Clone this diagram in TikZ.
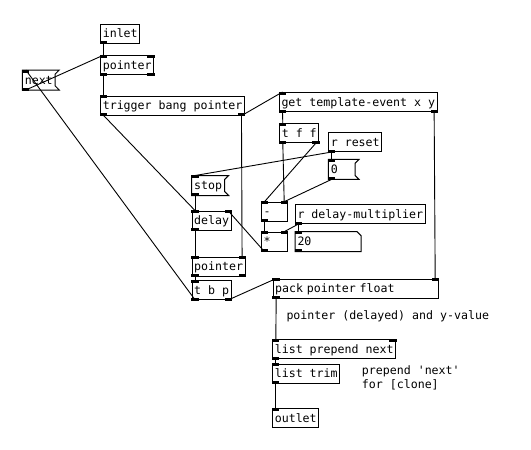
\documentclass[tikz,border=0pt]{standalone}
\usepackage{fontspec}
\newfontfamily\pdfont[Ligatures=TeXOff]{DejaVu Sans Mono}
\newcommand\pdtext{\pdfont\fontsize{11.6pt}{14pt}\selectfont}
\newcommand\pdinL[1]{\fill ([shift={(-0.5pt,0.5pt)}]#1.north west) rectangle ++(7.5pt,-3pt);}
\newcommand\pdinR[1]{\fill ([shift={(0.5pt,0.5pt)}]#1.north east) rectangle ++(-7.5pt,-3pt);}
\newcommand\pdoutL[1]{\fill ([shift={(-0.5pt,-0.5pt)}]#1.south west) rectangle ++(7.5pt,3pt);}
\newcommand\pdoutR[1]{\fill ([shift={(0.5pt,-0.5pt)}]#1.south east) rectangle ++(-7.5pt,3pt);}
\newcommand\pdmsgshape[1]{\draw[line width=1pt] (#1.north west) -- ([xshift=4pt]#1.north east) -- ([yshift=-4pt]#1.north east) -- ([yshift=4pt]#1.south east) -- ([xshift=4pt]#1.south east) -- (#1.south west) -- cycle;}
\newcommand\pdatomshape[1]{\draw[line width=1pt] (#1.north west) -- ([xshift=-4pt]#1.north east) -- ([yshift=-4pt]#1.north east) -- (#1.south east) -- (#1.south west) -- cycle;}
\begin{document}
\begin{tikzpicture}[x=1pt,y=-1pt,
  pdobj/.style={draw, line width=1pt, anchor=north west, inner xsep=2pt, inner ysep=0pt,
    text height=13.7pt, text depth=5.3pt, font=\pdtext},
  pdmsg/.style={pdobj, draw=none},
  conn/.style={line width=0.9pt},
  pdcmt/.style={anchor=base west, inner sep=0pt, font=\pdtext}]
\fill[white] (0,0) rectangle (531,450);
\useasboundingbox (0,0) rectangle (531,450);

% objects
\node[pdobj] (inlet) at (100.3,23.5) {inlet};
\node[pdobj] (ptrA) at (100.3,55) {pointer};
\node[pdmsg] (next) at (22.3,70) {next};
\node[pdobj] (trig) at (100.3,95.7) {trigger bang pointer};
\node[pdobj] (get) at (279,92) {get template-event x y};
\node[pdobj] (tff) at (279.3,123.3) {t f f};
\node[pdobj] (rreset) at (328.3,132) {r reset};
\node[pdmsg, text width=21.7pt] (zero) at (328.3,159.3) {0};
\node[pdmsg] (stop) at (191.7,175.5) {stop};
\node[pdobj, text width=21.7pt] (minus) at (261,201.7) {-};
\node[pdobj] (rdm) at (295,204) {r delay-multiplier};
\node[pdobj] (delay) at (191.7,210.7) {delay};
\node[pdobj, text width=21.7pt] (times) at (261,231.7) {*};
\node[pdmsg, text width=61pt] (twenty) at (295,231.7) {20};
\node[pdobj] (ptrB) at (191.7,256.7) {pointer};
\node[pdobj, text width=161pt] (pack) at (272.7,278.5) {pack pointer float};
\node[pdobj] (tbp) at (191.7,280) {t b p};
\node[pdobj] (lpn) at (272.3,339.3) {list prepend next};
\node[pdobj] (ltrim) at (272.3,363.7) {list trim};
\node[pdobj] (outlet) at (272.3,408.3) {outlet};

% message and atom outlines
\pdmsgshape{next}
\pdmsgshape{zero}
\pdmsgshape{stop}
\pdatomshape{twenty}

% comments
\node[pdcmt] (c1) at (286.3,319.5) {pointer (delayed) and y-value};
\node[pdcmt] (c2) at (361.7,374.3) {prepend 'next'};
\node[pdcmt] (c3) at (361.7,388.3) {for [clone]};

% iolets
\pdoutL{inlet}
\pdinL{ptrA}\pdinR{ptrA}\pdoutL{ptrA}\pdoutR{ptrA}
\pdinL{next}\pdoutL{next}
\pdinL{trig}\pdoutL{trig}\pdoutR{trig}
\pdinL{get}\pdoutL{get}\pdoutR{get}
\pdinL{tff}\pdoutL{tff}\pdoutR{tff}
\pdoutL{rreset}
\pdinL{zero}\pdoutL{zero}
\pdinL{stop}\pdoutL{stop}
\pdinL{minus}\pdinR{minus}\pdoutL{minus}
\pdoutL{rdm}
\pdinL{delay}\pdinR{delay}\pdoutL{delay}
\pdinL{times}\pdinR{times}\pdoutL{times}
\pdinL{twenty}\pdoutL{twenty}
\pdinL{ptrB}\pdinR{ptrB}\pdoutL{ptrB}\pdoutR{ptrB}
\pdinL{pack}\pdinR{pack}\pdoutL{pack}
\pdinL{tbp}\pdoutL{tbp}\pdoutR{tbp}
\pdinL{lpn}\pdinR{lpn}\pdoutL{lpn}
\pdinL{ltrim}\pdoutL{ltrim}
\pdinL{outlet}

% connections
\draw[conn] ([xshift=3.5pt]inlet.south west) -- ([xshift=3.5pt]ptrA.north west);
\draw[conn] ([xshift=3.5pt]ptrA.south west) -- ([xshift=3.5pt]trig.north west);
\draw[conn] ([xshift=3.5pt]next.south west) -- ([xshift=3.5pt]ptrA.north west);
\draw[conn] ([xshift=3.5pt]tbp.south west) -- ([xshift=3.5pt]next.north west);
\draw[conn] ([xshift=3.5pt]trig.south west) -- ([xshift=3.5pt]delay.north west);
\draw[conn] ([xshift=-3.5pt]trig.south east) -- ([xshift=-3.5pt]ptrB.north east);
\draw[conn] ([xshift=-3.5pt]trig.south east) -- ([xshift=3.5pt]get.north west);
\draw[conn] ([xshift=3.5pt]get.south west) -- ([xshift=3.5pt]tff.north west);
\draw[conn] ([xshift=-3.5pt]get.south east) -- ([xshift=-3.5pt]pack.north east);
\draw[conn] ([xshift=3.5pt]tff.south west) -- ([xshift=-3.5pt]minus.north east);
\draw[conn] ([xshift=-3.5pt]tff.south east) -- ([xshift=3.5pt]minus.north west);
\draw[conn] ([xshift=3.5pt]rreset.south west) -- ([xshift=3.5pt]zero.north west);
\draw[conn] ([xshift=3.5pt]rreset.south west) -- ([xshift=3.5pt]stop.north west);
\draw[conn] ([xshift=3.5pt]zero.south west) -- ([xshift=-3.5pt]minus.north east);
\draw[conn] ([xshift=3.5pt]stop.south west) -- ([xshift=3.5pt]delay.north west);
\draw[conn] ([xshift=3.5pt]delay.south west) -- ([xshift=3.5pt]ptrB.north west);
\draw[conn] ([xshift=3.5pt]times.south west) -- ([xshift=-3.5pt]delay.north east);
\draw[conn] ([xshift=3.5pt]minus.south west) -- ([xshift=3.5pt]times.north west);
\draw[conn] ([xshift=3.5pt]rdm.south west) -- ([xshift=-3.5pt]times.north east);
\draw[conn] ([xshift=3.5pt]rdm.south west) -- ([xshift=3.5pt]twenty.north west);
\draw[conn] ([xshift=3.5pt]ptrB.south west) -- ([xshift=3.5pt]tbp.north west);
\draw[conn] ([xshift=-3.5pt]tbp.south east) -- ([xshift=3.5pt]pack.north west);
\draw[conn] ([xshift=3.5pt]pack.south west) -- ([xshift=3.5pt]lpn.north west);
\draw[conn] ([xshift=3.5pt]lpn.south west) -- ([xshift=3.5pt]ltrim.north west);
\draw[conn] ([xshift=3.5pt]ltrim.south west) -- ([xshift=3.5pt]outlet.north west);
\end{tikzpicture}
\end{document}
